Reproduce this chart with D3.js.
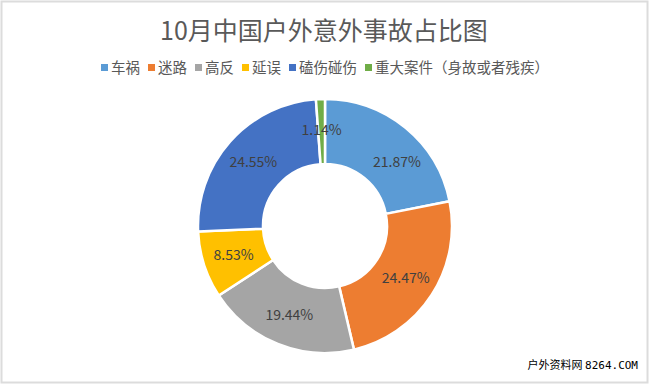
<!DOCTYPE html>
<html>
<head>
<meta charset="utf-8">
<script src="https://cdn.jsdelivr.net/npm/d3@7"></script>
<style>
  body { margin: 0; background: #fff; }
  svg { display: block; }
</style>
</head>
<body>
<script>
const w = 650;
const h = 385;

const title = "10月中国户外意外事故占比图";
const categories = ["车祸", "迷路", "高反", "延误", "磕伤碰伤", "重大案件（身故或者残疾）"];
const values = [21.87, 24.47, 19.44, 8.53, 24.55, 1.14];
const colors = ["#5B9BD5", "#ED7D31", "#A5A5A5", "#FFC000", "#4472C4", "#70AD47"];

const cx = 325, cy = 226;
const outerR = 127, innerR = 62, labelR = 96;
const font = "'Noto Sans CJK SC', 'Noto Sans', sans-serif";

const svg = d3.select("body")
  .append("svg")
  .attr("width", w)
  .attr("height", h);

// faint frame around the picture
svg.append("rect")
  .attr("x", 1.5).attr("y", 1.5)
  .attr("width", w - 4).attr("height", h - 4)
  .attr("fill", "none")
  .attr("stroke", "#dcdcdc")
  .attr("stroke-width", 2);

svg.append("text")
  .attr("x", 324)
  .attr("y", 40)
  .attr("text-anchor", "middle")
  .style("font-family", font)
  .style("font-size", "25px")
  .style("fill", "#595959")
  .text(title);

// legend
const legend = svg.append("g");
let lx = 0;
const itemGap = 8;
categories.forEach(function(c, i) {
  const item = legend.append("g").attr("transform", "translate(" + lx + ",0)");
  item.append("rect")
    .attr("x", 0).attr("y", -4)
    .attr("width", 7).attr("height", 7)
    .attr("fill", colors[i]);
  const t = item.append("text")
    .attr("x", 10)
    .attr("y", 0)
    .attr("dy", "0.35em")
    .style("font-family", font)
    .style("font-size", "14.5px")
    .style("fill", "#595959")
    .text(c);
  lx += 10 + t.node().getComputedTextLength() + itemGap;
});
legend.attr("transform", "translate(" + (325 - (lx - itemGap) / 2) + ",68)");

// donut
const pie = d3.pie().sort(null).value(d => d);
const arcs = pie(values);
const arc = d3.arc().innerRadius(innerR).outerRadius(outerR);
const labelArc = d3.arc().innerRadius(labelR).outerRadius(labelR);

const g = svg.append("g").attr("transform", "translate(" + cx + "," + cy + ")");

g.selectAll("path")
  .data(arcs)
  .enter()
  .append("path")
  .attr("d", arc)
  .attr("fill", (d, i) => colors[i])
  .attr("stroke", "#fff")
  .attr("stroke-width", 2.5);

// first label was pushed clockwise away from the thin green slice
const nudge = {0: 0.16};

g.selectAll("text.lbl")
  .data(arcs)
  .enter()
  .append("text")
  .attr("class", "lbl")
  .attr("transform", function(d, i) {
    const s = nudge[i] || 0;
    const p = labelArc.centroid({startAngle: d.startAngle + s, endAngle: d.endAngle + s});
    return "translate(" + p + ")";
  })
  .attr("text-anchor", "middle")
  .attr("dy", "0.35em")
  .style("font-family", font)
  .style("font-size", "14px")
  .style("fill", "#404040")
  .text(d => d.data.toFixed(2) + "%");

// watermark
const wm = svg.append("text")
  .attr("x", 638)
  .attr("y", 369)
  .attr("text-anchor", "end")
  .style("font-size", "11px")
  .style("fill", "#000");
wm.append("tspan").style("font-family", font).text("户外资料网 ");
wm.append("tspan").style("font-family", "'DejaVu Sans Mono', monospace").text("8264.COM");
</script>
</body>
</html>
